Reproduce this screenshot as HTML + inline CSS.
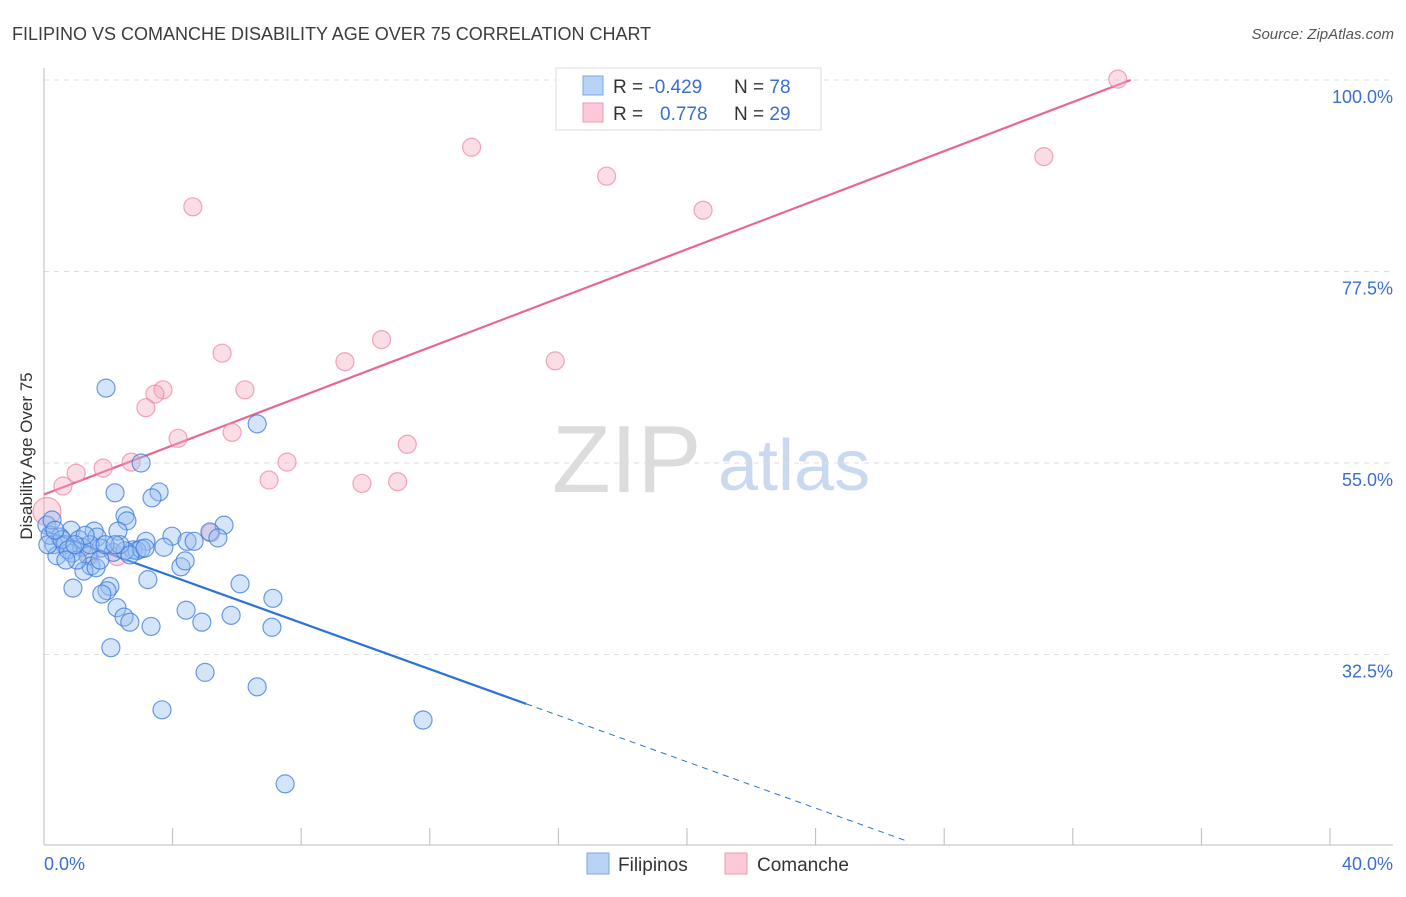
<!DOCTYPE html>
<html><head><meta charset="utf-8"><style>
body{margin:0;background:#fff;font-family:"Liberation Sans",sans-serif;}
svg text{font-family:"Liberation Sans",sans-serif;}
</style></head><body>
<svg id="chart" width="1406" height="892" xmlns="http://www.w3.org/2000/svg">
<text x="12" y="40" font-size="18" fill="#3c3c3c">FILIPINO VS COMANCHE DISABILITY AGE OVER 75 CORRELATION CHART</text>
<text x="1394" y="39" font-size="15" fill="#555" text-anchor="end" font-style="italic">Source: ZipAtlas.com</text>
<g>
<text x="552" y="492" font-size="96" font-family="Liberation Serif" fill="#dcdcdc">ZIP</text>
<text x="718" y="490" font-size="72" fill="#c9daf0">atlas</text>
</g>
<g id="grid"></g>
<g id="axes"></g>
<g id="lines"></g>
<g id="points"></g>
<text transform="translate(32,456) rotate(-90)" font-size="17" fill="#333" text-anchor="middle">Disability Age Over 75</text>
<g>
<rect x="556" y="68" width="265" height="62" fill="#fff" stroke="#ddd"/>
<rect x="583" y="76" width="20" height="19" fill="#b9d3f5" stroke="#7aa7e6"/>
<rect x="583" y="103" width="20" height="19" fill="#fbc9d7" stroke="#ef9ab3"/>
<text x="613" y="93" font-size="19" fill="#333">R = <tspan fill="#3a6fd0">-0.429</tspan></text>
<text x="734" y="93" font-size="19" fill="#333">N = <tspan fill="#3a6fd0">78</tspan></text>
<text x="613" y="120" font-size="19" fill="#333">R = <tspan fill="#3a6fd0" x="660">0.778</tspan></text>
<text x="734" y="120" font-size="19" fill="#333">N = <tspan fill="#3a6fd0">29</tspan></text>
</g>
<g>
<rect x="587" y="853" width="22" height="21" fill="#b9d3f5" stroke="#7aa7e6"/>
<text x="618" y="871" font-size="19" fill="#333">Filipinos</text>
<rect x="725" y="853" width="22" height="21" fill="#fbc9d7" stroke="#ef9ab3"/>
<text x="757" y="871" font-size="19" fill="#333">Comanche</text>
</g>
</svg>
<script>
const yTicks=[100,77.5,55,32.5];
const xTickLabels=["0.0%","40.0%"];
const blueX=[1.93,6.63,3.02,2.21,3.58,3.36,2.52,2.58,5.60,5.16,1.56,2.30,0.84,0.50,1.65,1.09,3.98,3.17,4.45,4.67,5.41,0.31,0.65,1.18,1.77,2.77,2.89,3.02,2.15,2.52,3.73,0.40,0.87,1.37,1.46,1.24,1.62,4.26,4.39,2.05,1.96,0.90,1.80,3.23,6.10,7.12,2.27,4.42,2.49,2.67,4.91,5.82,3.33,7.09,2.08,5.01,6.63,3.67,11.79,7.50,0.09,0.19,0.25,0.12,0.56,0.75,1.03,0.34,1.43,1.74,2.36,2.67,1.90,1.28,0.68,0.96,2.21,3.14];
const blueY=[63.8,59.6,55.0,51.5,51.6,50.9,48.8,48.2,47.7,46.9,47.0,47.0,47.1,46.3,46.3,46.0,46.4,45.8,45.8,45.8,46.2,45.4,45.4,45.1,45.0,44.8,44.7,44.9,44.5,44.7,45.1,44.1,44.4,44.1,42.9,42.3,42.7,42.8,43.5,40.5,40.0,40.3,39.6,41.3,40.8,39.1,38.0,37.7,36.9,36.3,36.3,37.1,35.8,35.7,33.3,30.4,28.7,26.0,24.8,17.3,47.7,46.5,48.3,45.4,46.0,44.8,43.6,47.1,45.4,43.6,45.4,44.2,45.4,46.5,43.6,45.4,45.4,45.0];
const pinkX=[33.4,13.3,31.1,17.5,4.63,20.5,5.54,10.5,9.36,15.9,6.25,3.70,3.45,3.17,4.17,5.85,11.3,7.56,2.71,1.84,1.00,0.59,7.0,9.89,11.0,5.19,1.43,2.27,0.09];
const pinkY=[100.1,92.1,91.0,88.7,85.1,84.7,67.9,69.5,66.9,67.0,63.6,63.6,63.1,61.5,57.9,58.6,57.2,55.1,55.1,54.4,53.8,52.3,53.0,52.6,52.8,46.8,44.1,44.0,49.3];
const blueTrend=[[0,47.1],[15.0,26.7],[26.9,10.5]];
const pinkTrend=[[0,51.3],[33.8,100]];
const NS="http://www.w3.org/2000/svg";
const X0=44,XS=1286/40,Y0=80,YS=191.5/22.5;
const xs=v=>X0+v*XS, ys=v=>Y0+(100-v)*YS;
function mk(t,a,p){const e=document.createElementNS(NS,t);for(const k in a)e.setAttribute(k,a[k]);p.appendChild(e);return e;}
const grid=document.getElementById('grid'),axes=document.getElementById('axes');
yTicks.forEach(v=>{
 const l=mk('line',{x1:44,x2:1393,y1:ys(v),y2:ys(v),stroke:'#ddd','stroke-dasharray':'5,5'},grid);
 
 
 const t=mk('text',{x:1393,y:ys(v)+23,'font-size':18,fill:'#3a6fd0','text-anchor':'end'},axes);
 t.textContent=v.toFixed(1)+'%';
 
 
});
mk('line',{x1:44,x2:44,y1:68,y2:845,stroke:'#bbb'},axes);
mk('line',{x1:44,x2:1393,y1:845,y2:845,stroke:'#bbb'},axes);
for(let i=0;i<=10;i++){const tk=mk('line',{x1:xs(i*4),x2:xs(i*4),y1:828,y2:845,stroke:'#bbb'},axes);
 
 }
[[0,'start',44],[40,'end',1393]].forEach((d,i)=>{const t=mk('text',{x:d[2],y:870,'font-size':18,fill:'#3a6fd0','text-anchor':d[1]},axes);t.textContent=xTickLabels[i];
 
 });
const pts=document.getElementById('points');
pinkX.forEach((x,i)=>{const c=mk('circle',{cx:xs(x),cy:ys(pinkY[i]),r:i==pinkX.length-1?14:9,fill:'rgba(246,170,192,0.4)',stroke:'rgba(236,130,160,0.7)','stroke-width':1.2},pts);
 
 });
blueX.forEach((x,i)=>{const c=mk('circle',{cx:xs(x),cy:ys(blueY[i]),r:9,fill:'rgba(150,190,240,0.4)',stroke:'rgba(60,120,220,0.75)','stroke-width':1.2},pts);
 
 });
const ln=document.getElementById('lines');
const b1=mk('line',{x1:xs(blueTrend[0][0]),y1:ys(blueTrend[0][1]),x2:xs(blueTrend[1][0]),y2:ys(blueTrend[1][1]),stroke:'#2a72d8','stroke-width':2.2},ln);


const b2=mk('line',{x1:xs(blueTrend[1][0]),y1:ys(blueTrend[1][1]),x2:xs(blueTrend[2][0]),y2:ys(blueTrend[2][1]),stroke:'#2a72d8','stroke-width':1,'stroke-dasharray':'6,5'},ln);


const p1=mk('line',{x1:xs(pinkTrend[0][0]),y1:ys(pinkTrend[0][1]),x2:xs(pinkTrend[1][0]),y2:ys(pinkTrend[1][1]),stroke:'#e8668f','stroke-width':2.2},ln);


</script>
</body></html>
